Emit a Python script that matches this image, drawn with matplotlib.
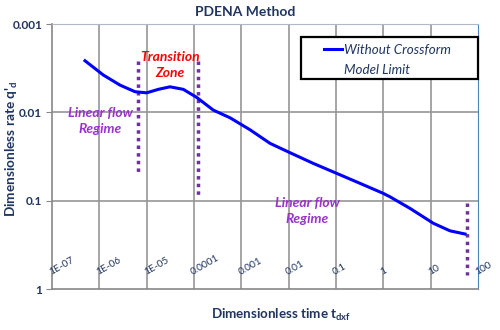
import numpy as np
import matplotlib
matplotlib.use("Agg")
import matplotlib.pyplot as plt
from matplotlib.lines import Line2D
from matplotlib.patches import Rectangle
from matplotlib.ticker import NullLocator

plt.rcParams['font.family'] = ['Lato', 'DejaVu Sans']

# curve
t_dxf = [4.98e-7, 1.21e-6, 2.74e-6, 5.68e-6, 1.0e-5, 1.76e-5, 3.11e-5, 5.94e-5,
         1.14e-4, 2.56e-4, 5.77e-4, 1.52e-3, 4.04e-3, 1.07e-2, 3.32e-2, 0.1035,
         0.321, 1.0, 1.38, 3.66, 11.4, 25.6, 53.2]
q_d = [2.60e-3, 3.77e-3, 4.91e-3, 5.83e-3, 6.0e-3, 5.48e-3, 5.13e-3, 5.48e-3,
       6.76e-3, 9.42e-3, 1.15e-2, 1.57e-2, 2.24e-2, 2.86e-2, 3.78e-2, 4.90e-2,
       6.35e-2, 8.26e-2, 9.02e-2, 0.122, 0.180, 0.219, 0.238]

# vertical dotted "limit" markers: x, y_start, y_end
limit_x = [6.67e-6, 1.23e-4, 57.8]
limit_y0 = [2.6e-3, 2.6e-3, 0.105]
limit_y1 = [0.051, 0.085, 0.69]

x_ticks = [1e-7, 1e-6, 1e-5, 1e-4, 1e-3, 1e-2, 1e-1, 1, 10, 100]
x_labels = ["1E-07", "1E-06", "1E-05", "0.0001", "0.001", "0.01", "0.1", "1", "10", "100"]
y_ticks = [0.001, 0.01, 0.1, 1]
y_labels = ["0.001", "0.01", "0.1", "1"]

navy = '#1F3560'
purple = '#7030A0'
violet = '#9933CC'
grid_c = '#969696'

fig = plt.figure(figsize=(5, 3.3), dpi=100)
ax = fig.add_axes([0.104, 0.124, 0.852, 0.803])

ax.set_xscale('log')
ax.set_yscale('log')
ax.set_xlim(x_ticks[0], x_ticks[-1])
ax.set_ylim(y_ticks[-1], y_ticks[0])

# grid lines at the decades
for x in x_ticks[1:-1]:
    ax.axvline(x, color=grid_c, lw=1.2, zorder=2)
for y in y_ticks[1:-1]:
    ax.axhline(y, color=grid_c, lw=1.2, zorder=2)

ax.plot(t_dxf, q_d, color='#0000FF', lw=2.2, zorder=4)

for x, y0, y1 in zip(limit_x, limit_y0, limit_y1):
    ax.plot([x, x], [y0, y1], color=purple, lw=2.5, ls=(0, (1, 1.2)), zorder=3)

ax.set_xticks(x_ticks)
ax.set_xticklabels([])
ax.xaxis.set_minor_locator(NullLocator())
ax.yaxis.set_minor_locator(NullLocator())
ax.set_yticks(y_ticks)
ax.set_yticklabels(y_labels, fontsize=8.5, fontweight='bold', color=navy)
ax.tick_params(axis='x', length=0)
ax.tick_params(axis='y', length=4, color='#888888', pad=3)
for s in ['left', 'bottom']:
    ax.spines[s].set_color('#888888')
    ax.spines[s].set_linewidth(1.2)
ax.spines['right'].set_color('#4F81BD')
ax.spines['top'].set_color('#B0B8C8')

# rotated x labels drawn inside the plot
for x, lab in zip(x_ticks, x_labels):
    ax.text(x, 0.045, lab, transform=ax.get_xaxis_transform(), rotation=30,
            rotation_mode='anchor', ha='left', va='bottom', fontsize=7.3,
            color=navy, clip_on=False)

ax.text(0.277, 0.845, 'Transition\nZone', transform=ax.transAxes, ha='center',
        va='center', color='#FF0000', fontsize=10, fontweight='bold',
        fontstyle='italic', linespacing=1.35)
ax.text(0.113, 0.634, 'Linear flow\nRegime', transform=ax.transAxes, ha='center',
        va='center', color=violet, fontsize=10, fontweight='bold',
        fontstyle='italic', linespacing=1.35)
ax.text(0.599, 0.294, 'Linear flow\nRegime', transform=ax.transAxes, ha='center',
        va='center', color=violet, fontsize=10, fontweight='bold',
        fontstyle='italic', linespacing=1.35)

# legend: black box plus frameless legend inside it
ax.add_patch(Rectangle((0.585, 0.792), 0.415, 0.159, transform=ax.transAxes,
                       facecolor='white', edgecolor='black', lw=1.6, zorder=5,
                       clip_on=False))
handles = [Line2D([], [], color='#0000FF', lw=2.2),
           Line2D([], [], color='none')]
leg = ax.legend(handles, ['Without Crossform', 'Model Limit'], loc='upper left',
                bbox_to_anchor=(0.63, 0.94), borderaxespad=0, frameon=False,
                handlelength=1.3, handletextpad=0.15, borderpad=0.3,
                labelspacing=0.6, prop={'size': 9.6, 'style': 'italic'})
leg.set_zorder(6)
for txt in leg.get_texts():
    txt.set_color(navy)

fig.text(0.49, 0.965, 'PDENA Method', ha='center', va='center', fontsize=10,
         fontweight='bold', color=navy)
fig.text(0.562, 0.045, r'Dimensionless time t$_{\mathregular{dxf}}$', ha='center',
         va='center', fontsize=9.6, fontweight='bold', color=navy)
fig.text(0.024, 0.55, r"Dimensionless rate q'$_{\mathregular{d}}$", ha='center',
         va='center', rotation=90, fontsize=9.8, fontweight='bold', color=navy)

fig.savefig('out.png', dpi=100)
